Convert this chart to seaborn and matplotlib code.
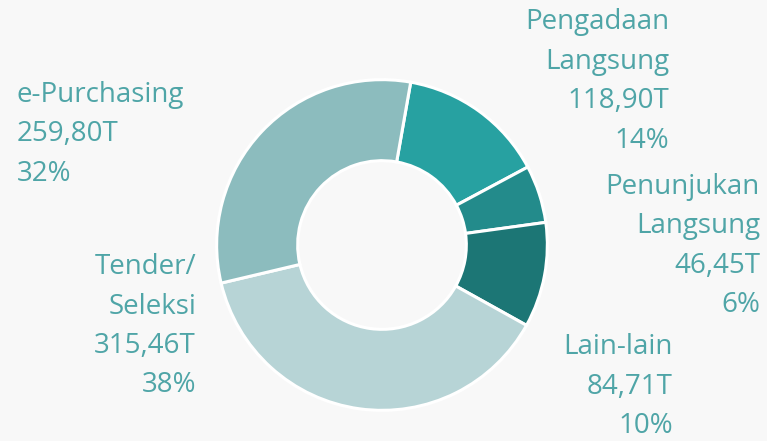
import matplotlib
matplotlib.use('Agg')
from matplotlib import pyplot as plt
import seaborn as sns

# data (in trillions of rupiah)
categories = ['Pengadaan\nLangsung', 'Penunjukan\nLangsung', 'Lain-lain', 'Tender/\nSeleksi', 'e-Purchasing']
values = [118.90, 46.45, 84.71, 315.46, 259.80]
percents = [14, 6, 10, 38, 32]

colors = ['#27a1a1', '#238b8b', '#1c7675', '#b7d4d6', '#8cbcbe']
text_color = '#4fa5a7'
bg = '#f8f8f8'

sns.set_style('white')
plt.rcParams['font.family'] = ['Open Sans', 'DejaVu Sans']

W, H = 767, 441
fig = plt.figure(figsize=(W / 100, H / 100), dpi=100, facecolor=bg)

# donut centre and radius in pixels
cx, cy, r = 382, 245, 167
ax = fig.add_axes([(cx - r) / W, (H - cy - r) / H, 2 * r / W, 2 * r / H])
ax.set_facecolor(bg)
ax.pie(values, colors=colors, startangle=80, counterclock=False, radius=1,
       wedgeprops=dict(width=0.49, edgecolor='white', linewidth=2.2))
ax.set_xlim(-1.01, 1.01)
ax.set_ylim(-1.01, 1.01)
ax.set_aspect('equal')
ax.axis('off')


def fmt(v):
    return '{:.2f}'.format(v).replace('.', ',') + 'T'


# label anchors: (x px, y px of first line centre, alignment)
spots = [
    (669, 22, 'right'),
    (760, 187, 'right'),
    (673, 347, 'right'),
    (196, 267, 'right'),
    (17, 95, 'left'),
]

for cat, v, p, (x, y, ha) in zip(categories, values, percents, spots):
    lines = cat.split('\n') + [fmt(v), '{}%'.format(p)]
    for k, line in enumerate(lines):
        fig.text(x / W, 1 - (y + 39.5 * k) / H, line, ha=ha, va='center',
                 fontsize=20, color=text_color)

fig.savefig('out.png', dpi=100, facecolor=bg)
